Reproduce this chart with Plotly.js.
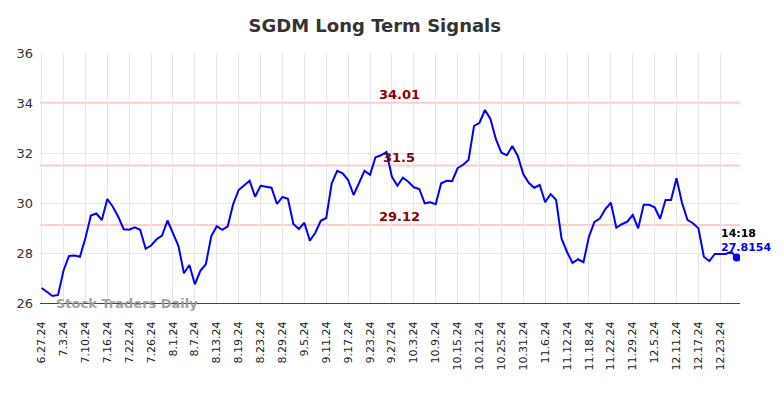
<!DOCTYPE html>
<html>
<head>
<meta charset="utf-8">
<script src="https://cdn.plot.ly/plotly-3.0.1.min.js"></script>
<style>html,body{margin:0;padding:0;background:#fff;}#chart{width:784px;height:398px;}</style>
</head>
<body>
<div id="chart"></div>
<script>
const dates = [
"6.27.24","6.28.24",
"7.1.24","7.2.24","7.3.24","7.5.24","7.8.24","7.9.24","7.10.24","7.11.24","7.12.24","7.15.24","7.16.24","7.17.24","7.18.24","7.19.24","7.22.24","7.23.24","7.24.24","7.25.24","7.26.24","7.29.24","7.30.24","7.31.24",
"8.1.24","8.2.24","8.5.24","8.6.24","8.7.24","8.8.24","8.9.24","8.12.24","8.13.24","8.14.24","8.15.24","8.16.24","8.19.24","8.20.24","8.21.24","8.22.24","8.23.24","8.26.24","8.27.24","8.28.24","8.29.24","8.30.24",
"9.3.24","9.4.24","9.5.24","9.6.24","9.9.24","9.10.24","9.11.24","9.12.24","9.13.24","9.16.24","9.17.24","9.18.24","9.19.24","9.20.24","9.23.24","9.24.24","9.25.24","9.26.24","9.27.24","9.30.24",
"10.1.24","10.2.24","10.3.24","10.4.24","10.7.24","10.8.24","10.9.24","10.10.24","10.11.24","10.14.24","10.15.24","10.16.24","10.17.24","10.18.24","10.21.24","10.22.24","10.23.24","10.24.24","10.25.24","10.28.24","10.29.24","10.30.24","10.31.24",
"11.1.24","11.4.24","11.5.24","11.6.24","11.7.24","11.8.24","11.11.24","11.12.24","11.13.24","11.14.24","11.15.24","11.18.24","11.19.24","11.20.24","11.21.24","11.22.24","11.25.24","11.26.24","11.27.24","11.29.24",
"12.2.24","12.3.24","12.4.24","12.5.24","12.6.24","12.9.24","12.10.24","12.11.24","12.12.24","12.13.24","12.16.24","12.17.24","12.18.24","12.19.24","12.20.24","12.23.24","12.24.24","12.26.24","12.27.24"
];
const prices = [
26.6,26.44,26.28,26.32,27.3,27.88,27.9,27.85,28.6,29.5,
29.58,29.32,30.16,29.85,29.45,28.95,28.93,29.03,28.93,28.17,
28.3,28.55,28.7,29.3,28.8,28.28,27.19,27.52,26.75,27.29,
27.55,28.68,29.07,28.93,29.07,29.96,30.52,30.72,30.89,30.25,
30.69,30.65,30.61,29.96,30.24,30.17,29.16,28.96,29.21,28.49,
28.81,29.29,29.4,30.79,31.29,31.19,30.92,30.32,30.81,31.29,
31.13,31.83,31.91,32.04,31.05,30.69,31.01,30.85,30.63,30.56,
29.99,30.03,29.95,30.79,30.89,30.87,31.39,31.53,31.72,33.08,
33.21,33.72,33.36,32.55,32.01,31.91,32.28,31.88,31.16,30.81,
30.61,30.72,30.03,30.36,30.12,28.57,28.04,27.6,27.75,27.63,
28.65,29.24,29.38,29.76,30.01,29.01,29.15,29.25,29.52,28.99,
29.93,29.93,29.83,29.37,30.12,30.12,30.99,30.01,29.33,29.19,
28.99,27.85,27.68,27.96,27.96,27.96,28.05,27.8154
];
const tickLabels = ["6.27.24","7.3.24","7.10.24","7.16.24","7.22.24","7.26.24","8.1.24","8.7.24","8.13.24","8.19.24","8.23.24","8.29.24","9.5.24","9.11.24","9.17.24","9.23.24","9.27.24","10.3.24","10.9.24","10.15.24","10.21.24","10.25.24","10.31.24","11.6.24","11.12.24","11.18.24","11.22.24","11.29.24","12.5.24","12.11.24","12.17.24","12.23.24"];
const yTicks = [26,28,30,32,34,36];
const levels = [34.01, 31.5, 29.12];
const levelLabels = ["34.01","31.5","29.12"];
const lastTime = "14:18";
const lastPrice = prices[prices.length-1];
const lastDate = dates[dates.length-1];

const traces = [
  {x: dates, y: prices, type:'scatter', mode:'lines', line:{color:'#0000ff', width:2}, hoverinfo:'skip'},
  {x: [lastDate], y: [lastPrice], type:'scatter', mode:'markers', marker:{color:'#0000ff', size:8}, hoverinfo:'skip'}
];

const shapes = levels.map(v => ({type:'line', xref:'paper', x0:0, x1:1, yref:'y', y0:v, y1:v, line:{color:'#ffcccc', width:2}, layer:'below'}));

const annotations = levels.map((v,i) => ({xref:'paper', x:0.513, yref:'y', y:v, text:levelLabels[i], showarrow:false, xanchor:'center', yanchor:'bottom', yshift:-1, font:{family:'DejaVu Sans', size:13, color:'#8b0000', weight:'bold'}}));
annotations.push({xref:'x', x:lastDate, yref:'y', y:lastPrice, text:'<b>'+lastTime+'</b>', showarrow:false, xanchor:'center', yanchor:'middle', xshift:2, yshift:24, font:{family:'DejaVu Sans', size:11, color:'#000'}});
annotations.push({xref:'x', x:lastDate, yref:'y', y:lastPrice, text:'<b>'+lastPrice.toFixed(4)+'</b>', showarrow:false, xanchor:'center', yanchor:'middle', xshift:9, yshift:10, font:{family:'DejaVu Sans', size:11, color:'#0000ff'}});
annotations.push({xref:'paper', x:0.02, yref:'paper', y:0, text:'<b>Stock Traders Daily</b>', showarrow:false, xanchor:'left', yanchor:'middle', font:{family:'DejaVu Sans', size:13, color:'#999999'}, opacity:0.9});

const layout = {
  width:784, height:398,
  margin:{l:40, r:44, t:53, b:95, pad:0},
  paper_bgcolor:'#fff', plot_bgcolor:'#fff',
  showlegend:false,
  title:{text:'<b>SGDM Long Term Signals</b>', x:0.478, xref:'container', y:0.935, yref:'container', yanchor:'middle', font:{family:'DejaVu Sans', size:18, color:'#333'}},
  xaxis:{type:'category', range:[-0.3, dates.length-0.4], tickmode:'array', tickvals:tickLabels, ticktext:tickLabels, tickangle:-90,
    tickfont:{family:'DejaVu Sans', size:11, color:'#222'}, ticklabelstandoff:13, showgrid:true, gridcolor:'#e6e6e6', gridwidth:1,
    showline:true, linecolor:'#444', linewidth:1, ticks:'', zeroline:false, fixedrange:true},
  yaxis:{range:[26,36], tickmode:'array', tickvals:yTicks, tickfont:{family:'DejaVu Sans', size:13, color:'#333'}, ticklabelstandoff:6,
    showgrid:true, gridcolor:'#e6e6e6', gridwidth:1, zeroline:false, showline:false, ticks:'', fixedrange:true},
  shapes: shapes,
  annotations: annotations
};

Plotly.newPlot('chart', traces, layout, {staticPlot:true, displayModeBar:false});
</script>
</body>
</html>
